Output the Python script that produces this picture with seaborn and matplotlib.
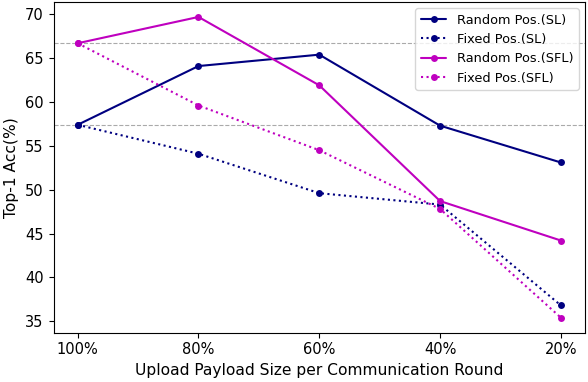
import numpy as np
import pandas as pd
import matplotlib
matplotlib.use("Agg")
import matplotlib.pyplot as plt
import seaborn as sns

payload = ["100%", "80%", "60%", "40%", "20%"]
random_sl = [57.4, 64.1, 65.4, 57.3, 53.1]
fixed_sl = [57.4, 54.1, 49.6, 48.3, 36.8]
random_sfl = [66.7, 69.7, 61.9, 48.7, 44.2]
fixed_sfl = [66.7, 59.6, 54.5, 47.8, 35.4]

series = [
    ("Random Pos.(SL)", random_sl, "navy", "-"),
    ("Fixed Pos.(SL)", fixed_sl, "navy", ":"),
    ("Random Pos.(SFL)", random_sfl, "m", "-"),
    ("Fixed Pos.(SFL)", fixed_sfl, "m", ":"),
]

sns.set_style("ticks", {"axes.edgecolor": "black", "text.color": "black",
                        "xtick.color": "black", "ytick.color": "black",
                        "axes.labelcolor": "black"})
plt.rcParams["font.family"] = ["DejaVu Sans"]

fig = plt.figure(figsize=(5.88, 3.82), dpi=100)
ax = fig.add_axes([0.091, 0.129, 0.904, 0.866])

pos = np.arange(len(payload))
for name, vals, col, ls in series:
    df = pd.DataFrame({"x": pos, "y": vals})
    sns.lineplot(data=df, x="x", y="y", ax=ax, color=col, linestyle=ls,
                 marker="o", markersize=5, markeredgewidth=0,
                 linewidth=1.5, label=name)

ax.axhline(random_sfl[0], color="#aaaaaa", linestyle="--", linewidth=0.8, zorder=0)
ax.axhline(random_sl[0], color="#aaaaaa", linestyle="--", linewidth=0.8, zorder=0)

ax.set_xticks(pos)
ax.set_xticklabels(payload)
ax.tick_params(labelsize=10.5)
ax.set_xlabel("Upload Payload Size per Communication Round", fontsize=11.2)
ax.set_ylabel("Top-1 Acc(%)", fontsize=11.2)
ax.legend(loc="upper right", fontsize=9.3, frameon=True)

fig.savefig("out.png", dpi=100)
